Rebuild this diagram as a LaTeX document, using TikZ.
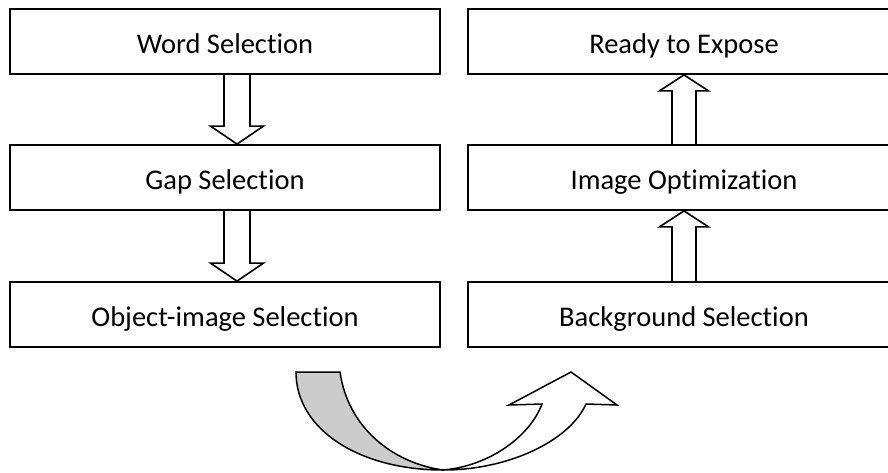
\documentclass[tikz,border=0pt]{standalone}
\usepackage{fontspec}
\setmainfont{Carlito}[Ligatures=NoCommon]
\usetikzlibrary{calc}
\definecolor{backgray}{HTML}{CCCCCC}

\begin{document}
\begin{tikzpicture}[x=1pt,y=-1pt,
    stage/.style={draw, line width=1.8pt, minimum height=65pt, inner sep=0pt,
      text height=27pt, text depth=4pt, font=\fontsize{28.5}{32}\selectfont},
    hollow/.style={draw, line width=1.6pt, line join=miter}]
    \useasboundingbox (0,0) rectangle (888,472);
    \clip (0,0) rectangle (888,472);
    % left column
    \node[stage, minimum width=430pt] (word) at (225,41.5) {Word Selection};
    \node[stage, minimum width=430pt] (gap) at (225,177.5) {Gap Selection};
    \node[stage, minimum width=430pt] (obj) at (225,314.5) {Object-image Selection};
    % right column
    \node[stage, minimum width=432pt] (ready) at (684,41.5) {Ready to Expose};
    \node[stage, minimum width=432pt] (imgopt) at (684,177.5) {Image Optimization};
    \node[stage, minimum width=432pt] (back) at (684,314.5) {Background Selection};
    \coordinate (lx) at (237,0);
    \coordinate (rx) at (684,0);
    \foreach \src/\dst/\col/\sw/\hw/\hd in {word.south/gap.north/lx/13/26.5/18,
        gap.south/obj.north/lx/13/26.5/18,
        back.north/imgopt.south/rx/12/24.5/-16,
        imgopt.north/ready.south/rx/12/24.5/-16}
      \draw[hollow] let \p1=(\src -| \col), \p2=(\dst -| \col) in
        (\x1-\sw*1pt,\y1) -- (\x1-\sw*1pt,\y2+\hd*1pt) -- (\x1-\hw*1pt,\y2+\hd*1pt)
        -- (\p2) -- (\x1+\hw*1pt,\y2+\hd*1pt) -- (\x1+\sw*1pt,\y2+\hd*1pt)
        -- (\x1+\sw*1pt,\y1);
    % turn-over arrow
    \coordinate (bend) at (443,470);
    \draw[line width=1.5pt, fill=backgray] (296,372) -- (340,372)
      .. controls (348,428) and (393,463) .. (bend)
      .. controls (360,470) and (296,430) .. cycle;
    \draw[line width=1.5pt, fill=white, line join=miter] (bend)
      .. controls (490,466) and (530,436) .. (542,404) -- (509,405) -- (571,372)
      -- (617,405) -- (586,404) .. controls (570,440) and (510,470) .. (bend) -- cycle;
  \end{tikzpicture}
\end{document}
